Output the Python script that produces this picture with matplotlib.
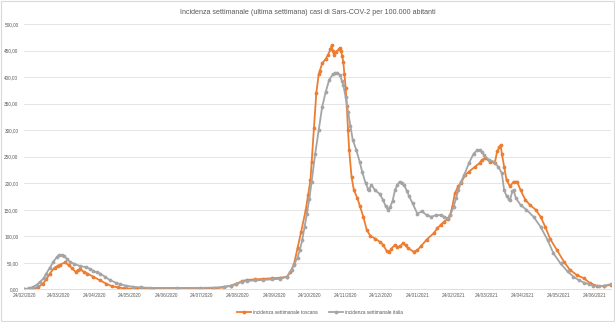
import matplotlib
matplotlib.use("Agg")

import matplotlib.dates as mdates
import matplotlib.pyplot as plt
import numpy as np
from matplotlib.patches import Rectangle
from matplotlib.ticker import FuncFormatter

plt.rcParams["font.family"] = ["Liberation Sans Narrow", "Liberation Sans", "DejaVu Sans"]

title = "Incidenza settimanale (ultima settimana) casi di Sars-COV-2 per 100.000 abitanti"
start_date = np.datetime64("2020-02-24")

# days since 24/02/2020, weekly incidence per 100.000
toscana_days = [0, 4, 8, 12, 16, 19, 22, 26, 29, 31, 35, 38, 41, 44, 46, 48, 51, 54, 59, 65,
                70, 75, 80, 85, 95, 110, 130, 150, 161, 170, 176, 181, 186, 190, 197, 204, 211,
                218, 224, 227, 230, 233, 236, 240, 242, 244, 245, 247, 249, 251, 252, 254, 257,
                259, 261, 262, 263, 264, 266, 268, 269, 270, 271, 272, 273, 274, 275, 276, 277,
                279, 281, 284, 286, 289, 292, 295, 299, 303, 306, 309, 311, 313, 316, 318, 320,
                323, 325, 327, 332, 335, 338, 343, 349, 352, 355, 358, 361, 363, 365, 367, 370,
                372, 376, 379, 384, 388, 390, 393, 397, 401, 403, 405, 406, 407, 409, 411, 414,
                417, 420, 423, 427, 431, 436, 440, 444, 448, 454, 460, 465, 471, 477, 482, 488,
                494, 500]
toscana_vals = [0, 0.5, 1, 4, 11, 19, 30, 41, 45, 47, 51, 46, 40, 33, 36, 38, 33, 30, 24, 17,
                11, 6, 4, 2, 1.5, 1, 1, 1, 1.5, 4, 7, 11, 16, 18, 19, 20, 21,
                22, 24, 33, 48, 78, 108, 150, 178, 206, 240, 305, 370, 405, 412, 426, 434,
                442, 452, 460, 450, 442, 448, 452, 454, 450, 440, 428, 405, 380, 345, 300, 262,
                212, 187, 172, 158, 137, 112, 101, 96, 90, 84, 72, 70, 77, 84, 80, 81,
                87, 83, 78, 71, 74, 81, 94, 106, 115, 122, 128, 133, 140, 158, 181, 195,
                200, 216, 222, 231, 238, 244, 247, 241, 238, 260, 268, 272, 256, 231, 206, 194,
                203, 203, 187, 169, 159, 150, 137, 118, 96, 74, 52, 37, 27, 21, 12, 7,
                6, 9]

italia_days = [0, 4, 8, 11, 14, 17, 19, 22, 25, 28, 30, 32, 34, 37, 39, 43, 48, 53, 56, 59,
               62, 65, 69, 73, 78, 82, 87, 93, 100, 107, 130, 150, 162, 170, 176, 181, 186, 190,
               197, 204, 211, 218, 224, 228, 230, 233, 235, 237, 239, 241, 243, 245, 248, 251,
               254, 257, 260, 263, 265, 267, 269, 271, 272, 274, 276, 278, 280, 283, 286, 288,
               291, 293, 294, 296, 299, 303, 306, 308, 310, 312, 314, 316, 318, 320, 322, 324,
               326, 328, 331, 335, 339, 343, 347, 351, 355, 358, 361, 363, 366, 368, 370, 372,
               375, 379, 383, 386, 388, 390, 392, 396, 400, 404, 407, 409, 411, 413, 414, 416,
               417, 419, 423, 428, 434, 440, 446, 451, 457, 463, 468, 473, 477, 481, 485, 490,
               494, 500]
italia_vals = [1, 2, 5, 9, 15, 22, 30, 41, 52, 61, 65, 65, 63, 57, 52, 48, 44, 42, 39, 35,
               32, 30, 24, 18, 13, 10, 7, 5, 4, 3, 3, 3, 3.5, 5, 7, 10, 15, 16,
               17, 18, 19, 20, 24, 37, 47, 60, 75, 93, 118, 143, 170, 203, 255, 300,
               344, 372, 395, 405, 408, 408, 404, 392, 385, 362, 335, 307, 282, 263, 240, 222,
               200, 190, 188, 197, 187, 180, 168, 157, 150, 156, 167, 187, 197, 203, 200, 196,
               186, 176, 162, 143, 147, 140, 137, 140, 140, 137, 134, 140, 156, 172, 187, 202,
               216, 238, 256, 262, 263, 259, 253, 244, 241, 231, 219, 187, 176, 170, 169, 185,
               187, 172, 159, 150, 137, 118, 93, 68, 49, 34, 24, 17, 13, 10, 7, 6,
               7, 10]

toscana_label = "incidenza settimanale toscana"
italia_label = "incidenza settimanale italia"

toscana_x = start_date + np.array(toscana_days, dtype="timedelta64[D]")
italia_x = start_date + np.array(italia_days, dtype="timedelta64[D]")

fig = plt.figure(figsize=(6.15, 3.22), dpi=100)
ax = fig.add_axes([0.039, 0.101, 0.9545, 0.8245])

ax.plot(toscana_x, toscana_vals, color="#ED7D31", linewidth=1.3, marker="o",
        markersize=1.7, label=toscana_label)
ax.plot(italia_x, italia_vals, color="#A5A5A5", linewidth=1.3, marker="o",
        markersize=1.7, label=italia_label)

ax.set_xlim(start_date, start_date + np.timedelta64(500, "D"))
ax.set_ylim(0, 500)
ax.set_yticks(np.arange(0, 501, 50))
ax.yaxis.set_major_formatter(FuncFormatter(lambda v, _: f"{v:.2f}".replace(".", ",")))
ax.xaxis.set_major_locator(mdates.DayLocator(bymonthday=24))
ax.xaxis.set_major_formatter(mdates.DateFormatter("%d/%m/%Y"))

ax.grid(axis="y", color="#e0e0e0", linewidth=0.6)
ax.set_axisbelow(True)
for side in ("top", "right", "left"):
    ax.spines[side].set_visible(False)
ax.spines["bottom"].set_color("#d9d9d9")
ax.spines["bottom"].set_linewidth(0.6)
ax.tick_params(axis="both", length=0, labelsize=3.4, colors="#595959")
ax.tick_params(axis="y", pad=4)
ax.tick_params(axis="x", pad=2.5)

fig.text(0.5, 1 - 12 / 322, title, ha="center", va="center", fontsize=5.1, color="#595959")

fig.legend(loc="center", bbox_to_anchor=(0.52, 0.031), ncol=2, frameon=False,
           fontsize=3.4, labelcolor="#595959", handlelength=3, columnspacing=2.5,
           handletextpad=0.4)

fig.patches.append(Rectangle((0.002, 0.003), 0.996, 0.994, transform=fig.transFigure,
                             fill=False, edgecolor="#d9d9d9", linewidth=0.8))

fig.savefig("out.png", dpi=100)
